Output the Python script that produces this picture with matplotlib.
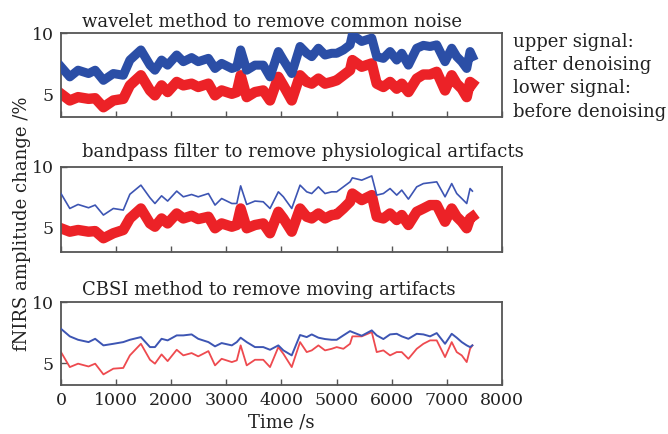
import matplotlib
matplotlib.use("Agg")
import matplotlib.pyplot as plt

# time grid (s) shared by all traces
t = [0, 160, 310, 500, 620, 770, 950, 1130, 1250, 1450, 1615, 1705, 1825, 1935,
     2100, 2220, 2370, 2490, 2675, 2795, 2915, 3100, 3190, 3260, 3370, 3520, 3670,
     3793, 3944, 4035, 4187, 4338, 4459, 4550, 4671, 4791, 4912, 5003, 5124, 5245,
     5287, 5457, 5639, 5729, 5850, 5971, 6092, 6183, 6304, 6455, 6576, 6697, 6818,
     6969, 7090, 7181, 7272, 7362, 7423, 7465]

# panel 1 : wavelet
wav_after = [7.27, 6.45, 6.99, 6.72, 6.99, 6.17, 6.72, 6.58, 7.81, 8.63, 7.40, 6.99, 7.81, 7.40,
             8.22, 7.68, 8.01, 7.68, 7.95, 7.13, 7.54, 7.13, 7.27, 8.63, 6.99, 7.40, 7.40,
             6.45, 8.50, 7.81, 6.72, 8.91, 8.36, 8.09, 8.77, 8.22, 8.36, 8.36, 8.63, 9.04,
             9.86, 9.32, 9.59, 8.09, 7.95, 8.50, 7.81, 8.36, 7.40, 8.77, 9.00, 8.91, 9.04,
             7.68, 8.77, 8.09, 7.68, 7.13, 8.50, 8.09]
wav_before = [5.08, 4.54, 4.81, 4.67, 4.72, 3.99, 4.54, 4.67, 5.76, 6.58, 5.35, 4.95, 5.76, 5.22,
              6.04, 5.76, 5.90, 5.63, 5.90, 4.95, 5.35, 5.08, 5.22, 6.58, 4.81, 5.22, 5.35,
              4.54, 6.45, 5.76, 4.54, 6.58, 6.04, 5.90, 6.31, 5.90, 6.04, 6.17, 6.58, 6.99,
              7.81, 7.27, 7.54, 5.90, 5.63, 6.04, 5.49, 5.90, 5.22, 6.31, 6.64, 6.64, 6.86,
              5.35, 6.58, 5.90, 5.49, 4.81, 6.04, 5.90]

# panel 2 : bandpass
bp_after = [7.81, 6.58, 6.91, 6.64, 6.86, 6.04, 6.58, 6.45, 7.75, 8.50, 7.46, 6.99, 7.62, 7.19,
            8.01, 7.54, 7.73, 7.54, 7.81, 6.86, 7.40, 6.99, 6.99, 8.44, 6.91, 7.19, 7.13,
            6.58, 7.95, 7.54, 6.58, 8.50, 7.95, 7.81, 8.36, 7.81, 7.95, 7.95, 8.36, 8.77,
            9.10, 8.91, 9.26, 7.68, 7.81, 8.22, 7.68, 8.09, 7.35, 8.36, 8.63, 8.70, 8.77,
            7.54, 8.63, 7.81, 7.40, 6.99, 8.22, 8.01]
bp_before = [4.95, 4.67, 4.81, 4.67, 4.72, 4.13, 4.54, 4.81, 5.76, 6.58, 5.35, 5.08, 5.76, 5.35,
             6.17, 5.76, 5.98, 5.71, 5.90, 4.95, 5.35, 5.08, 5.22, 6.58, 4.95, 5.22, 5.35,
             4.54, 6.31, 5.76, 4.67, 6.58, 5.90, 5.76, 6.17, 5.76, 6.04, 6.09, 6.58, 7.13,
             7.81, 7.27, 7.68, 5.90, 5.76, 6.17, 5.63, 6.04, 5.22, 6.31, 6.58, 6.86, 6.86,
             5.49, 6.58, 5.90, 5.49, 4.95, 5.76, 5.90]

# panel 3 : CBSI
cbsi_after = [7.81, 7.19, 6.91, 6.72, 6.99, 6.45, 6.58, 6.72, 6.91, 7.13, 6.31, 6.31, 6.99, 6.86,
              7.27, 7.27, 7.35, 6.99, 6.72, 6.37, 6.64, 6.45, 6.72, 7.08, 6.72, 6.31, 6.31,
              6.09, 6.45, 6.04, 5.63, 7.30, 7.13, 7.35, 7.08, 6.97, 6.91, 6.91, 7.27, 7.62,
              7.54, 7.24, 7.68, 7.27, 6.97, 7.35, 7.40, 7.19, 6.99, 7.40, 7.35, 7.19, 7.46,
              6.58, 7.40, 7.08, 6.72, 6.45, 6.31, 6.45]
cbsi_before = [5.90, 4.67, 4.95, 4.72, 4.95, 4.07, 4.54, 4.60, 5.63, 6.58, 5.27, 4.95, 5.71, 5.16,
               6.09, 5.63, 5.82, 5.55, 5.98, 4.81, 5.35, 5.08, 5.22, 6.45, 4.81, 5.27, 5.27,
               4.67, 6.31, 5.76, 4.67, 6.72, 5.90, 6.04, 6.45, 6.04, 6.17, 6.31, 6.17, 6.58,
               7.19, 7.19, 7.54, 5.90, 6.04, 5.63, 5.90, 5.90, 5.35, 6.17, 6.58, 6.86, 6.86,
               5.49, 6.72, 5.90, 5.63, 5.08, 6.17, 6.45]

titles = ["wavelet method to remove common noise",
          "bandpass filter to remove physiological artifacts",
          "CBSI method to remove moving artifacts"]

BLUE = "#2b4ea6"
BLUE_THIN = "#3d55b3"
RED = "#ec2227"
RED_THIN = "#ee4a4f"
SPINE = "#555555"
TXT = "#222222"

plt.rcParams["font.family"] = "DejaVu Serif"

fig = plt.figure(figsize=(6.68, 4.34), dpi=100)

boxes = [[0.0913, 0.7304, 0.660, 0.1935],
         [0.0913, 0.4194, 0.660, 0.1960],
         [0.0913, 0.1129, 0.660, 0.1910]]
ylims = [(3.2, 10), (3.0, 10), (3.2, 10)]
title_gap = [4.5, 7.0, 5.0]   # points between axes top and title baseline

# (upper, colour, lw, lower, colour, lw) – noisy traces drawn as thick ribbons
series = [
    (wav_after, BLUE, 6.5, wav_before, RED, 7.5),
    (bp_after, BLUE_THIN, 1.2, bp_before, RED, 7.5),
    (cbsi_after, BLUE_THIN, 1.4, cbsi_before, RED_THIN, 1.3),
]

axes = []
for i, box in enumerate(boxes):
    ax = fig.add_axes(box)
    up, cu, lwu, lo, cl, lwl = series[i]
    ax.plot(t, lo, color=cl, lw=lwl, solid_joinstyle="round", zorder=2)
    ax.plot(t, up, color=cu, lw=lwu, solid_joinstyle="round", zorder=3)
    ax.set_xlim(0, 8000)
    ax.set_ylim(*ylims[i])
    ax.set_yticks([5, 10])
    ax.set_xticks(range(0, 8001, 1000))
    ax.tick_params(direction="in", length=4, width=1, colors=SPINE,
                   labelcolor=TXT, labelsize=12.5, pad=5)
    for s in ax.spines.values():
        s.set_color(SPINE)
        s.set_linewidth(1.3)
    if i < 2:
        ax.set_xticklabels([])
    ax.annotate(titles[i], xy=(0.048, 1.0), xycoords="axes fraction",
                xytext=(0, title_gap[i]), textcoords="offset points",
                ha="left", va="baseline", fontsize=13, color=TXT)
    axes.append(ax)

axes[2].set_xlabel("Time /s", fontsize=13, color=TXT, labelpad=3)
fig.text(0.033, 0.485, "fNIRS amplitude change /%", rotation=90,
         ha="center", va="center", fontsize=13, color=TXT)

fig.text(0.768, 0.925,
         "upper signal:\nafter denoising\nlower signal:\nbefore denoising",
         ha="left", va="top", fontsize=13, color=TXT, linespacing=1.38)

fig.savefig("out.png", dpi=100)
